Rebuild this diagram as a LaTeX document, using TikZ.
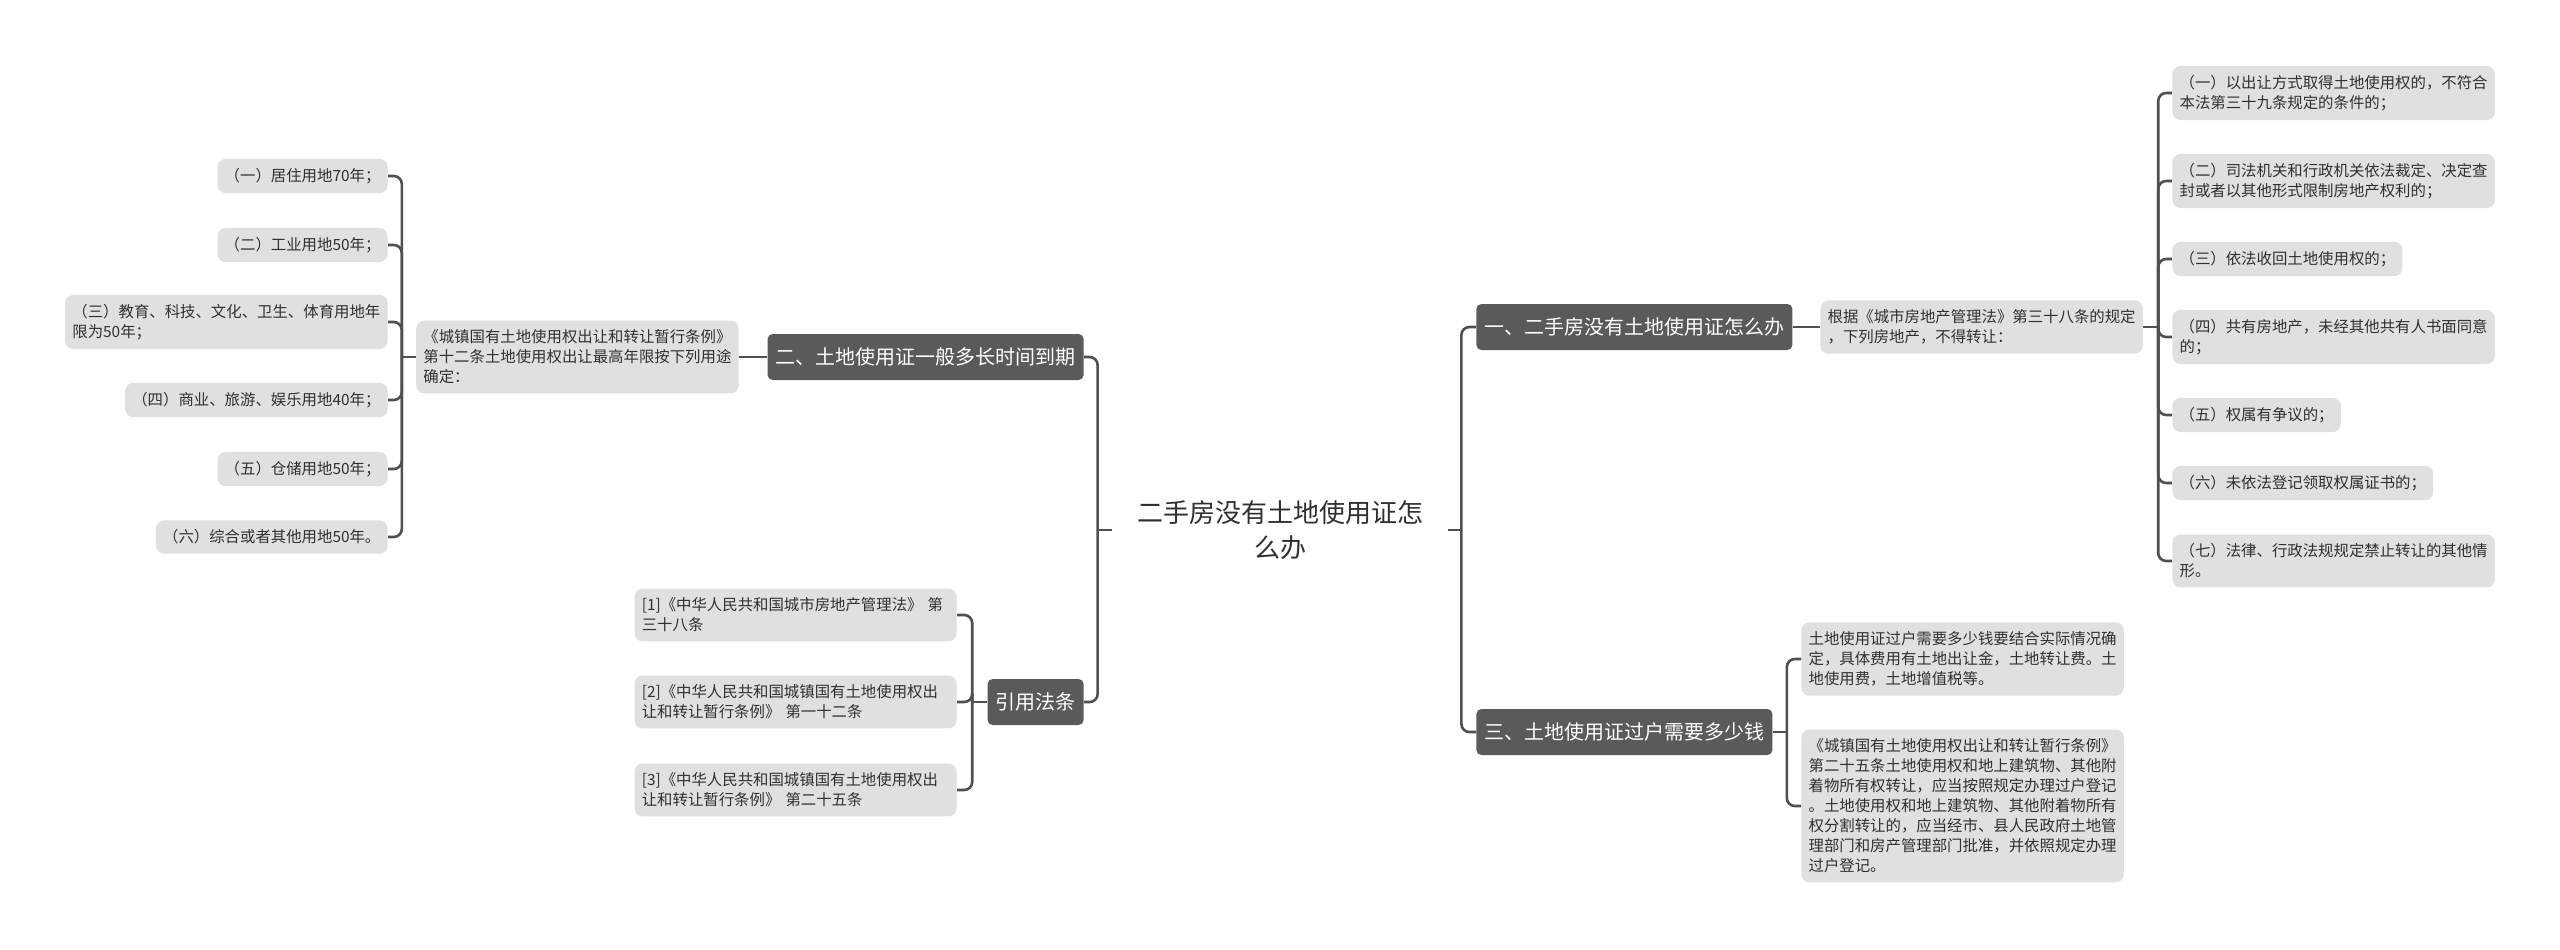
\documentclass[tikz,border=0pt]{standalone}
\usepackage{fontspec}
\setmainfont{Noto Sans CJK SC}
\definecolor{lineC}{HTML}{505050}
\definecolor{darkC}{HTML}{5A5A5A}
\definecolor{leafC}{HTML}{E0E0E0}
\definecolor{textC}{HTML}{303030}
\begin{document}
\begin{tikzpicture}[x=0.5pt,y=-0.5pt,
  conn/.style={draw=lineC,line width=1.3pt,rounded corners=4pt},
  branch/.style={fill=darkC,text=white,rounded corners=2.5pt,inner xsep=4pt,inner ysep=0pt,
    minimum height=23pt,font=\fontsize{10}{12}\selectfont},
  leaf/.style={fill=leafC,text=textC,rounded corners=4pt,inner xsep=3.6pt,inner ysep=4.6pt,
    align=left,font=\fontsize{7.7}{10}\selectfont},
  wideleaf/.style={leaf,text width=153.8pt},
  rootnode/.style={align=center,minimum width=168pt,minimum height=40pt,inner sep=0pt,
    text=textC,font=\fontsize{13}{17.5}\selectfont}]
\useasboundingbox (0,0) rectangle (2560,949);
\fill[white] (0,0) rectangle (2560,949);

% root
\node[rootnode] (root) at (1280,530) {二手房没有土地使用证怎\\么办};
\path (root.west) ++(-14,0) coordinate (jL);
\path (root.east) ++(13,0) coordinate (jR);

% branches
\node[branch,anchor=west] (b1) at (1476,327) {一、二手房没有土地使用证怎么办};
\node[branch,anchor=west] (b3) at (1476,732) {三、土地使用证过户需要多少钱};
\node[branch,anchor=east] (b2) at (1084,357) {二、土地使用证一般多长时间到期};
\node[branch,anchor=east] (b4) at (1084,702) {引用法条};

\draw[conn] (root.west) -- (jL);
\draw[conn] (root.east) -- (jR);
\draw[conn] (jL) |- (b2.east);
\draw[conn] (jL) |- (b4.east);
\draw[conn] (jR) |- (b1.west);
\draw[conn] (jR) |- (b3.west);

% branch 1
\node[leaf,anchor=west] (r0) at (1820,327) {根据《城市房地产管理法》第三十八条的规定\\，下列房地产，不得转让：};
\draw[conn] (b1.east) -- (r0.west);
\path (r0.east) ++(15,0) coordinate (jR0);
\draw[conn] (r0.east) -- (jR0);
\node[leaf,anchor=west] (r1) at (2172,93) {（一）以出让方式取得土地使用权的，不符合\\本法第三十九条规定的条件的；};
\node[leaf,anchor=west] (r2) at (2172,181) {（二）司法机关和行政机关依法裁定、决定查\\封或者以其他形式限制房地产权利的；};
\node[leaf,anchor=west] (r3) at (2172,259) {（三）依法收回土地使用权的；};
\node[leaf,anchor=west] (r4) at (2172,337) {（四）共有房地产，未经其他共有人书面同意\\的；};
\node[leaf,anchor=west] (r5) at (2172,415) {（五）权属有争议的；};
\node[leaf,anchor=west] (r6) at (2172,483) {（六）未依法登记领取权属证书的；};
\node[leaf,anchor=west] (r7) at (2172,561) {（七）法律、行政法规规定禁止转让的其他情\\形。};
\foreach \n in {r1,r2,r3,r4,r5,r6,r7} \draw[conn] (jR0) |- (\n.west);

% branch 3
\path (b3.east) ++(14,0) coordinate (jB3);
\draw[conn] (b3.east) -- (jB3);
\node[leaf,anchor=west] (s1) at (1801,659) {土地使用证过户需要多少钱要结合实际情况确\\定，具体费用有土地出让金，土地转让费。土\\地使用费，土地增值税等。};
\node[leaf,anchor=west] (s2) at (1801,806) {《城镇国有土地使用权出让和转让暂行条例》\\第二十五条土地使用权和地上建筑物、其他附\\着物所有权转让，应当按照规定办理过户登记\\。土地使用权和地上建筑物、其他附着物所有\\权分割转让的，应当经市、县人民政府土地管\\理部门和房产管理部门批准，并依照规定办理\\过户登记。};
\draw[conn] (jB3) |- (s1.west);
\draw[conn] (jB3) |- (s2.west);

% branch 2
\node[leaf,anchor=east] (m) at (739,357) {《城镇国有土地使用权出让和转让暂行条例》\\第十二条土地使用权出让最高年限按下列用途\\确定：};
\draw[conn] (b2.west) -- (m.east);
\path (m.west) ++(-14,0) coordinate (jM);
\draw[conn] (m.west) -- (jM);
\node[leaf,anchor=east] (l1) at (388,176) {（一）居住用地70年；};
\node[leaf,anchor=east] (l2) at (388,245) {（二）工业用地50年；};
\node[leaf,anchor=east] (l3) at (388,322) {（三）教育、科技、文化、卫生、体育用地年\\限为50年；};
\node[leaf,anchor=east] (l4) at (388,400) {（四）商业、旅游、娱乐用地40年；};
\node[leaf,anchor=east] (l5) at (388,469) {（五）仓储用地50年；};
\node[leaf,anchor=east] (l6) at (388,537) {（六）综合或者其他用地50年。};
\foreach \n in {l1,l2,l3,l4,l5,l6} \draw[conn] (jM) |- (\n.east);

% branch 4
\path (b4.west) ++(-15,0) coordinate (jB4);
\draw[conn] (b4.west) -- (jB4);
\node[wideleaf,anchor=east] (c1) at (957,615) {[1]《中华人民共和国城市房地产管理法》 第\\三十八条};
\node[wideleaf,anchor=east] (c2) at (957,702) {[2]《中华人民共和国城镇国有土地使用权出\\让和转让暂行条例》 第一十二条};
\node[wideleaf,anchor=east] (c3) at (957,790) {[3]《中华人民共和国城镇国有土地使用权出\\让和转让暂行条例》 第二十五条};
\foreach \n in {c1,c2,c3} \draw[conn] (jB4) |- (\n.east);
\end{tikzpicture}
\end{document}
